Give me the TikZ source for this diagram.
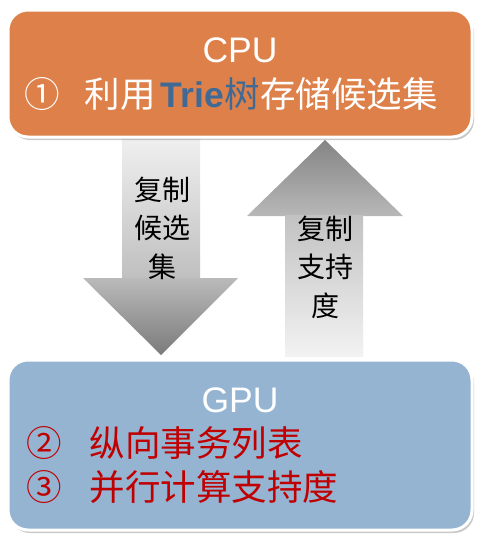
\documentclass[tikz,border=0pt]{standalone}
\usepackage{fontspec}
\setmainfont{Liberation Sans}
\newfontfamily\cjk{Noto Sans CJK SC}
\usetikzlibrary{shadows}
\definecolor{cpuorange}{HTML}{DE8049}
\definecolor{gpublue}{HTML}{94B4D2}
\definecolor{trieblue}{HTML}{3F6A95}
\definecolor{darkred}{HTML}{C00000}
\tikzset{
  unitbox/.style={fill=#1, draw=white, line width=3pt, rounded corners=20pt,
    drop shadow={shadow xshift=2pt, shadow yshift=-3pt, opacity=0.35, fill=black!60}},
  bigtext/.style={font=\fontsize{35.5}{42}\selectfont, inner sep=0pt, anchor=base},
  arrowtext/.style={font=\cjk\fontsize{28}{38.5}\selectfont, align=center, inner sep=0pt, text=black},
}
\begin{document}
\begin{tikzpicture}[x=1pt,y=-1pt]
\useasboundingbox (0,0) rectangle (482,541);
\fill[white] (0,0) rectangle (482,541);
% down arrow
\shade[top color=black!5, bottom color=black!25] (122,130) rectangle (200,279);
\shade[top color=black!27, bottom color=black!52] (83,278) -- (238,278) -- (161,355) -- cycle;
% up arrow
\shade[top color=black!48, bottom color=black!28] (325,140) -- (403,216) -- (247,216) -- cycle;
\shade[top color=black!24, bottom color=black!5] (285,215) rectangle (363,356);
% boxes
\path[unitbox=cpuorange] (8,10) rectangle (472,137);
\path[unitbox=gpublue] (8,360) rectangle (472,530);
% CPU texts
\node[bigtext, text=white] (cpu) at (240,62) {CPU};
\node[bigtext, text=white, anchor=base west] (cpuline) at (24,107)
  {{\cjk ①}\hspace{25pt}{\cjk 利用}\hspace{5pt}\textcolor{trieblue}{{\bfseries Trie}\hspace{1pt}{\cjk 树}}{\cjk 存储候选集}};
% GPU texts
\node[bigtext, text=white] (gpu) at (240,412) {GPU};
\node[bigtext, text=darkred, anchor=base west] (gpuline1) at (26,456)
  {{\cjk ②}\hspace{28pt}{\cjk 纵向事务列表}};
\node[bigtext, text=darkred, anchor=base west] (gpuline2) at (26,500)
  {{\cjk ③}\hspace{28pt}{\cjk 并行计算支持度}};
% arrow labels
\node[arrowtext] (downlabel) at (162,228) {复制\\候选\\集};
\node[arrowtext] (uplabel) at (325,267) {复制\\支持\\度};
\end{tikzpicture}
\end{document}
